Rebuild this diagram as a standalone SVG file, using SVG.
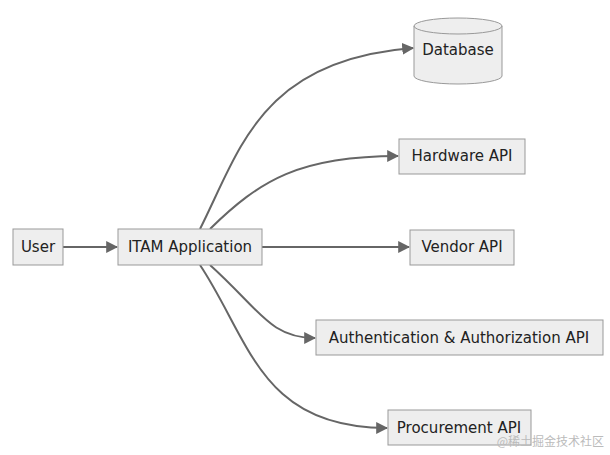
<svg xmlns="http://www.w3.org/2000/svg" width="610" height="455" viewBox="0 0 610 455">
<style>
.n{fill:#eeeeee;stroke:#999999;stroke-width:1}
.t{font-family:"DejaVu Sans",sans-serif;font-size:15px;fill:#222;text-anchor:middle;dominant-baseline:central}
.e{fill:none;stroke:#666;stroke-width:2}
</style>
<defs><marker id="a" viewBox="0 0 10 10" refX="9" refY="5" markerWidth="8" markerHeight="8" markerUnits="userSpaceOnUse" orient="auto"><path d="M0,0L10,5L0,10z" fill="#666"/></marker>
<marker id="b" viewBox="0 0 10 10" refX="9" refY="5" markerWidth="12" markerHeight="12" markerUnits="userSpaceOnUse" orient="auto"><path d="M0,0L10,5L0,10z" fill="#666"/></marker></defs>
<rect width="610" height="455" fill="#fff"/>
<g id="edges">
<path class="e" d="M63,247H117" marker-end="url(#b)"/>
<path class="e" d="M262,247H409" marker-end="url(#b)"/>
<path class="e" d="M200,229C240,150 260,60 413,48" marker-end="url(#b)"/>
<path class="e" d="M210,229C260,180 300,156 398,156" marker-end="url(#b)"/>
<path class="e" d="M210,265C260,310 270,338 315,338" marker-end="url(#b)"/>
<path class="e" d="M200,265C250,340 260,428 387,428" marker-end="url(#b)"/>
</g>
<g id="user"><rect class="n" x="13" y="229" width="50" height="36"/><text class="t" x="38" y="247">User</text></g>
<g id="itam"><rect class="n" x="118" y="229" width="144" height="36"/><text class="t" x="190" y="247">ITAM Application</text></g>
<g id="db"><path class="n" d="M414,26 a44,8 0 0,1 88,0 v50 a44,8 0 0,1 -88,0z"/><path d="M414,26 a44,8 0 0,0 88,0" fill="none" stroke="#999"/><text class="t" x="458" y="50">Database</text></g>
<g id="hw"><rect class="n" x="399" y="139" width="126" height="35"/><text class="t" x="462" y="156">Hardware API</text></g>
<g id="vendor"><rect class="n" x="410" y="230" width="104" height="35"/><text class="t" x="462" y="247">Vendor API</text></g>
<g id="auth"><rect class="n" x="316" y="320" width="287" height="35"/><text class="t" x="459" y="338">Authentication &amp; Authorization API</text></g>
<g id="proc"><rect class="n" x="388" y="410" width="143" height="35"/><text class="t" x="459" y="428">Procurement API</text></g>
<text x="604" y="446" font-family="'Noto Sans CJK SC',sans-serif" font-size="12" fill="#bbb" text-anchor="end">@稀土掘金技术社区</text>
</svg>
